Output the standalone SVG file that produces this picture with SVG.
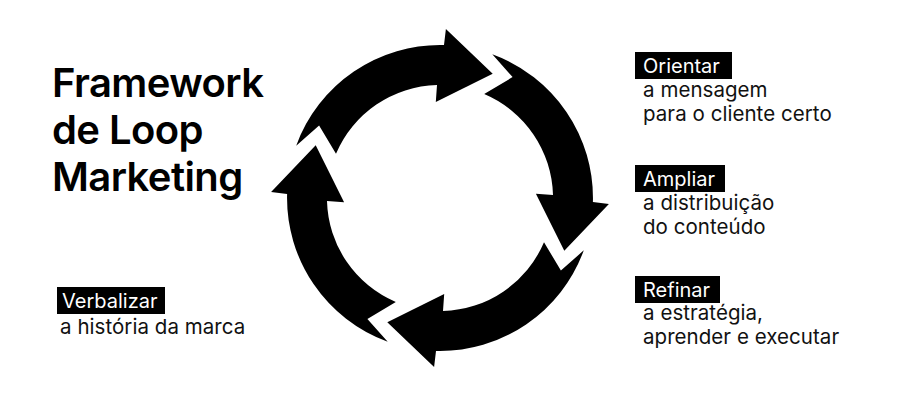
<svg xmlns="http://www.w3.org/2000/svg" xmlns:xlink="http://www.w3.org/1999/xlink" width="900" height="400" viewBox="0 0 900 400">
<style>
.title{font-family:Inter,"Liberation Sans",sans-serif;font-size:40px;font-weight:600;letter-spacing:-0.6px;fill:#000}
.lbl{font-family:Inter,"Liberation Sans",sans-serif;font-size:20px;fill:#fff}
.body{font-family:Inter,"Liberation Sans",sans-serif;font-size:20.5px;letter-spacing:0.05px;fill:#111}
.tag{fill:#000}
.arrow{fill:#000}
</style>
<defs>
<path id="arrow" d="M296.2,145.7 A153,153 0 0 1 444.0,45.1 L445.9,29.1 L492.7,73.7 L435.8,102.1 L437.0,85.0 A113,113 0 0 0 336.0,153.8 L319.1,125.4 Z"/>
</defs>
<rect width="900" height="400" fill="#fff"/>
<g id="title">
<text class="title" x="52" y="97">Framework</text>
<text class="title" x="52" y="144">de Loop</text>
<text class="title" x="52" y="191">Marketing</text>
</g>
<g id="connectors">
<use href="#arrow" class="arrow"/>
<use href="#arrow" class="arrow" transform="rotate(90 440 198)"/>
<use href="#arrow" class="arrow" transform="rotate(180 440 198)"/>
<use href="#arrow" class="arrow" transform="rotate(270 440 198)"/>
</g>
<g id="orientar">
<rect class="tag" x="635" y="52" width="97" height="27"/>
<text class="lbl" x="643" y="73">Orientar</text>
<text class="body" x="643" y="97">a mensagem</text>
<text class="body" x="643" y="121">para o cliente certo</text>
</g>
<g id="ampliar">
<rect class="tag" x="635" y="165" width="90" height="27"/>
<text class="lbl" x="643" y="186">Ampliar</text>
<text class="body" x="643" y="210">a distribuição</text>
<text class="body" x="643" y="234">do conteúdo</text>
</g>
<g id="refinar">
<rect class="tag" x="635" y="276" width="85" height="27"/>
<text class="lbl" x="643" y="297">Refinar</text>
<text class="body" x="643" y="320">a estratégia,</text>
<text class="body" x="643" y="344">aprender e executar</text>
</g>
<g id="verbalizar">
<rect class="tag" x="57" y="287" width="108" height="27"/>
<text class="lbl" x="62" y="308">Verbalizar</text>
<text class="body" x="60" y="334">a história da marca</text>
</g>
</svg>
